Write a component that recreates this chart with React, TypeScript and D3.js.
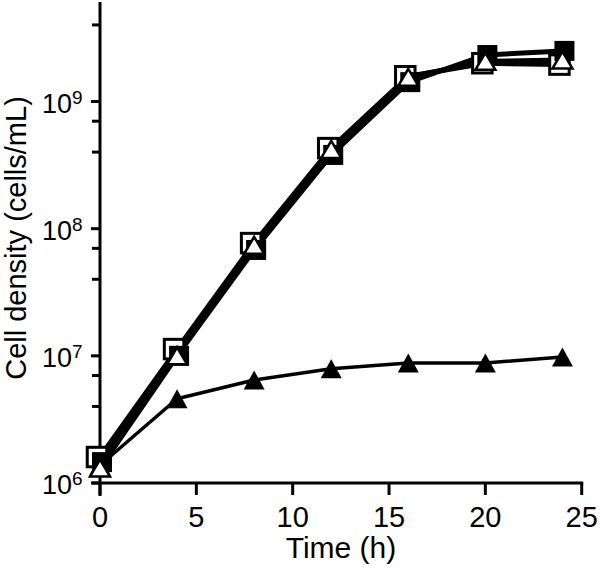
import React from "react";
import * as d3 from "d3";

const times = [0, 4, 8, 12, 16, 20, 24];
const openSquare = [1.6e6, 1.13e7, 7.7e7, 4.3e8, 1.58e9, 2.0e9, 1.95e9];
const filledSquare = [1.46e6, 1.0e7, 6.8e7, 3.8e8, 1.42e9, 2.32e9, 2.5e9];
const openTriangle = [1.31e6, 1.0e7, 7.4e7, 4.2e8, 1.55e9, 2.07e9, 2.12e9];
const filledTriangle = [1.38e6, 4.6e6, 6.45e6, 7.9e6, 8.8e6, 8.8e6, 9.8e6];

const xTicks = [0, 5, 10, 15, 20, 25];
const yMajor = [1e6, 1e7, 1e8, 1e9];
const yMajorExp = ["6", "7", "8", "9"];
const yMinor = [4e6, 7e6, 4e7, 7e7, 4e8, 7e8, 4e9];

const FONT = "'Liberation Sans', Arial, Helvetica, sans-serif";

export default function App() {
  const x = d3.scaleLinear().domain([0, 25]).range([100, 581.7]);
  const y = d3.scaleLog().domain([1e6, 1e9]).range([483, 101.5]);
  const axisTop = 2;
  const line = d3
    .line<number>()
    .x((_, i) => x(times[i]))
    .y((d) => y(d));

  const sq = (cx: number, cy: number, s: number) => ({ x: cx - s / 2, y: cy - s / 2, width: s, height: s });
  const tri = (cx: number, cy: number, w: number, h: number) =>
    `M${cx},${cy - h / 2}L${cx + w / 2},${cy + h / 2}L${cx - w / 2},${cy + h / 2}Z`;

  return (
    <div style={{ position: "absolute", left: 0, top: 0 }}>
      <svg width={600} height={569} style={{ display: "block", background: "#fff" }}>
        {/* axes */}
        <line x1={x(0)} x2={x(0)} y1={axisTop} y2={y(1e6) + 13} stroke="#000" strokeWidth={3} />
        <line x1={x(0) - 8} x2={x(25) + 1.5} y1={y(1e6)} y2={y(1e6)} stroke="#000" strokeWidth={3} />
        {xTicks.map((t) => (
          <g key={"xt" + t}>
            <line x1={x(t)} x2={x(t)} y1={y(1e6)} y2={y(1e6) + 12} stroke="#000" strokeWidth={3} />
            <text x={x(t)} y={527} fontSize={29} fontFamily={FONT} textAnchor="middle" fill="#000">
              {t}
            </text>
          </g>
        ))}
        {yMinor.map((v) => (
          <line key={"ym" + v} x1={x(0) - 8} x2={x(0)} y1={y(v)} y2={y(v)} stroke="#000" strokeWidth={3} />
        ))}
        {yMajor.map((v, i) => (
          <g key={"yM" + v}>
            <line x1={x(0) - 9} x2={x(0)} y1={y(v)} y2={y(v)} stroke="#000" strokeWidth={3} />
            <text x={72} y={y(v) + 11} fontSize={27} fontFamily={FONT} textAnchor="end" fill="#000">
              10
            </text>
            <text x={72} y={y(v) + 2} fontSize={19} fontFamily={FONT} textAnchor="start" fill="#000">
              {yMajorExp[i]}
            </text>
          </g>
        ))}
        <text x={341} y={558} fontSize={30} fontFamily={FONT} textAnchor="middle" fill="#000">
          Time (h)
        </text>
        <text
          transform={`translate(26,238) rotate(-90)`}
          fontSize={29}
          fontFamily={FONT}
          textAnchor="middle"
          fill="#000"
        >
          Cell density (cells/mL)
        </text>

        {/* lines */}
        <path d={line(filledTriangle) || ""} fill="none" stroke="#000" strokeWidth={3.5} strokeLinejoin="round" />
        <path d={line(openSquare) || ""} fill="none" stroke="#000" strokeWidth={5} strokeLinejoin="round" />
        <path d={line(filledSquare) || ""} fill="none" stroke="#000" strokeWidth={5} strokeLinejoin="round" />
        <path d={line(openTriangle) || ""} fill="none" stroke="#000" strokeWidth={5} strokeLinejoin="round" />

        {/* markers */}
        {filledTriangle.map((v, i) => (
          <path key={"ft" + i} d={tri(x(times[i]), y(v), 21, 19)} fill="#000" />
        ))}
        {openSquare.map((v, i) => (
          <rect key={"os" + i} {...sq(x(times[i]) - 3, y(v), 19.5)} fill="#fff" stroke="#000" strokeWidth={3} />
        ))}
        {filledSquare.map((v, i) => (
          <rect key={"fs" + i} {...sq(x(times[i]) + 2, y(v), 20)} fill="#000" />
        ))}
        {openTriangle.map((v, i) => (
          <path
            key={"ot" + i}
            d={tri(x(times[i]), y(v), 20, 17)}
            fill="#fff"
            stroke="#000"
            strokeWidth={2.5}
            strokeLinejoin="miter"
          />
        ))}
      </svg>
    </div>
  );
}
